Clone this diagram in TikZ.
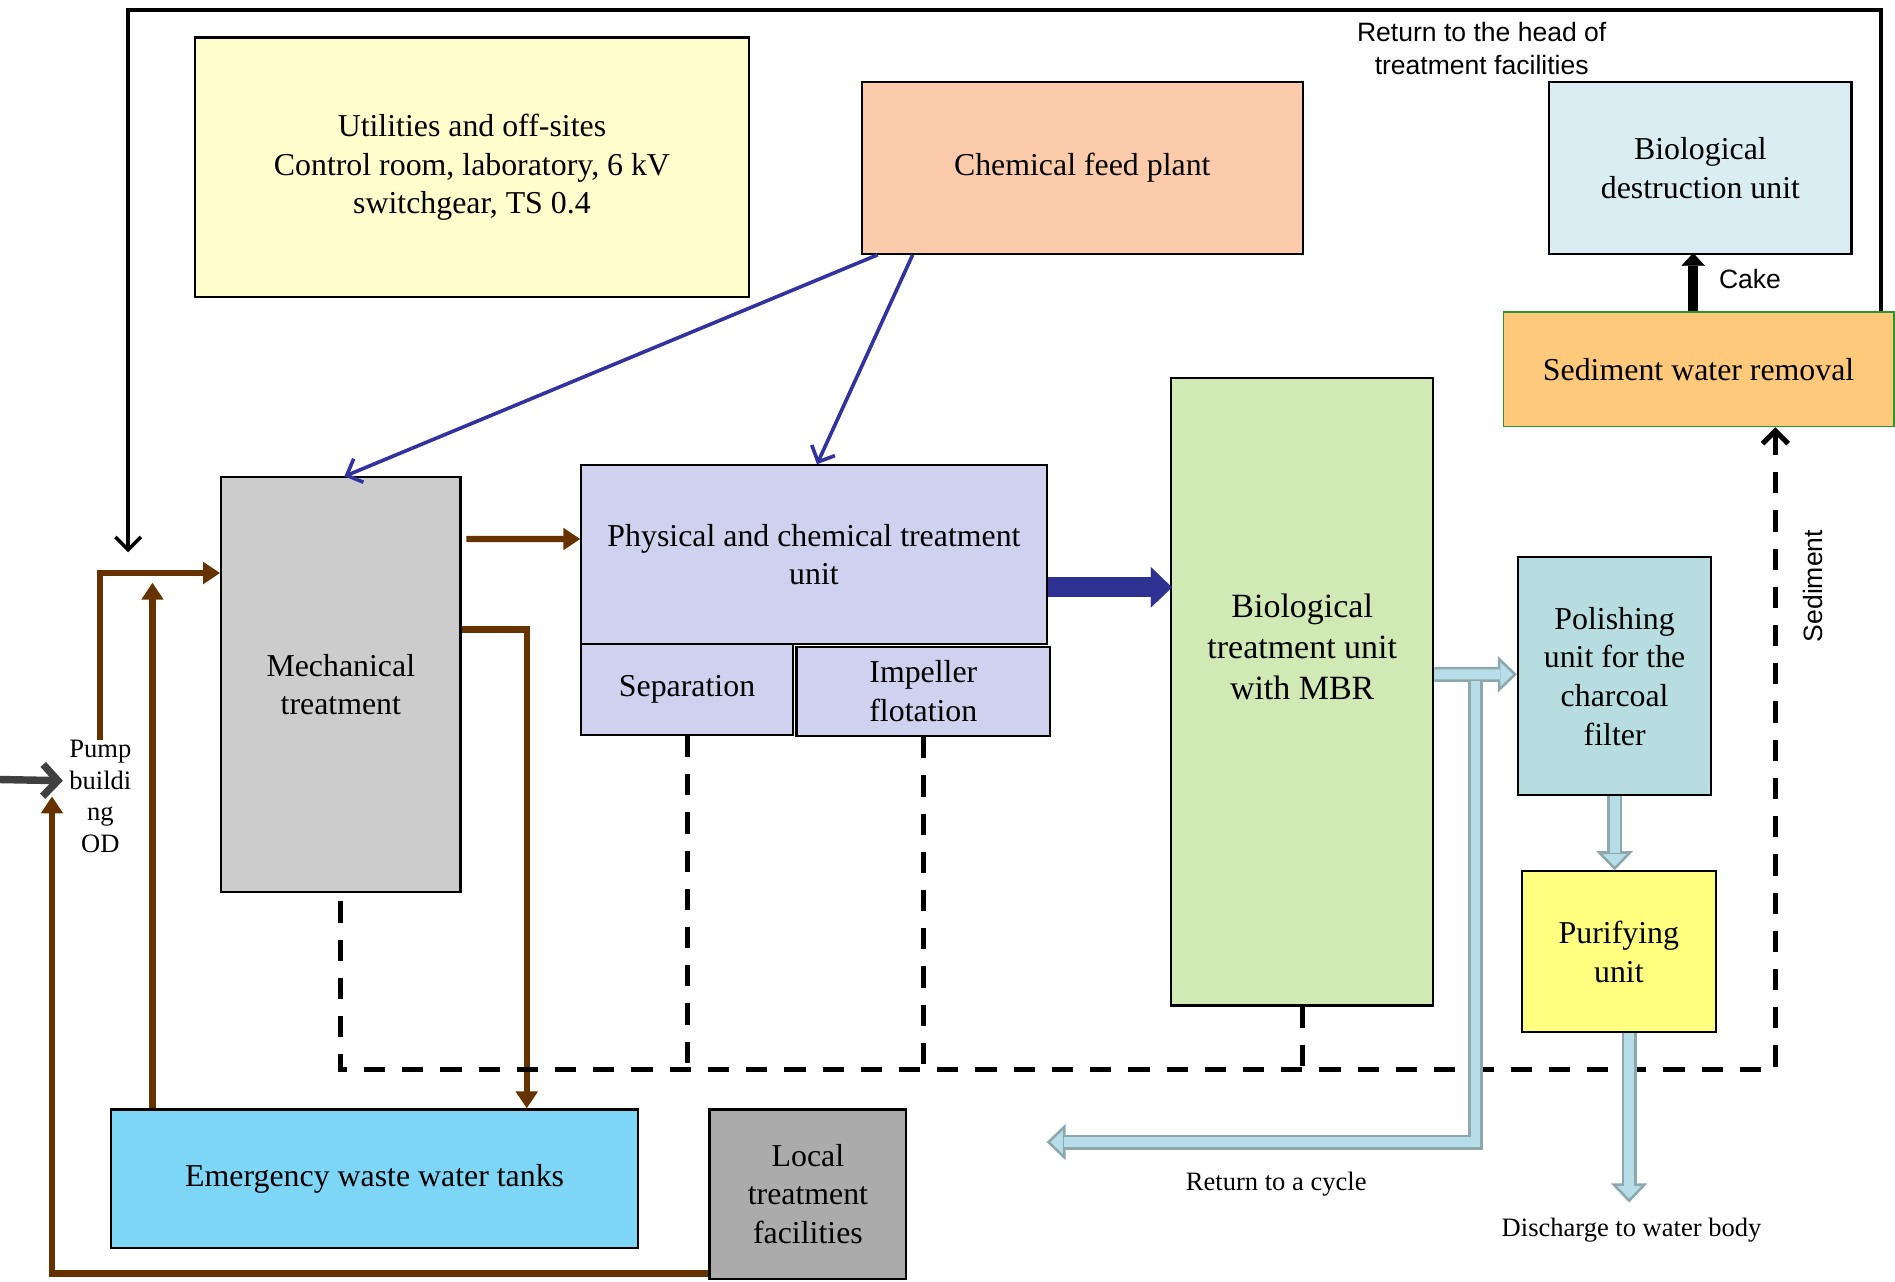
\documentclass[tikz,border=0pt]{standalone}
\usepackage{fontspec}
\setmainfont{Liberation Serif}
\newfontfamily\arialfont{Liberation Sans}
\usetikzlibrary{positioning, arrows.meta}

\definecolor{utilyellow}{RGB}{255,253,204}
\definecolor{chempeach}{RGB}{252,203,172}
\definecolor{destblue}{RGB}{218,237,242}
\definecolor{sedorange}{RGB}{255,201,124}
\definecolor{sedgreen}{RGB}{40,150,40}
\definecolor{mechgray}{RGB}{204,204,204}
\definecolor{physlilac}{RGB}{208,208,239}
\definecolor{mbrgreen}{RGB}{209,233,180}
\definecolor{polishteal}{RGB}{183,221,224}
\definecolor{purifyyellow}{RGB}{255,255,128}
\definecolor{tankblue}{RGB}{125,214,246}
\definecolor{localgray}{RGB}{171,171,171}
\definecolor{flowbrown}{RGB}{102,51,0}
\definecolor{dosingblue}{RGB}{51,51,160}
\definecolor{navyflow}{RGB}{46,49,146}
\definecolor{waterfill}{RGB}{183,222,232}
\definecolor{wateredge}{RGB}{140,168,172}
\definecolor{inflowgray}{RGB}{64,64,64}

\newcommand{\boxfont}{\fontsize{15}{18.2}\selectfont}
\newcommand{\notefont}{\fontsize{12.5}{15}\selectfont}
\newcommand{\sansnote}{\arialfont\fontsize{12.5}{15.4}\selectfont}

\begin{document}
\begin{tikzpicture}[x=0.02cm, y=-0.02cm, align=center,
		unit/.style={draw, line width=1pt, inner sep=0pt, font=\boxfont},
		brownflow/.style={draw=flowbrown, line width=3pt, -{Triangle[length=8pt,width=10pt]}},
		dosing/.style={draw=dosingblue, line width=1.7pt, -{Straight Barb[length=6pt,width=12pt]}},
		sludge/.style={line width=2.4pt, dash pattern=on 10pt off 8pt},
		waterarrow/.style={draw=wateredge, line width=7pt,
			-{Triangle[length=9pt,width=17pt,line width=1.2pt,fill=waterfill]},
			postaction={draw=waterfill, line width=4.6pt, -, shorten >=8pt}}
	]
		\useasboundingbox (0,0) rectangle (1568,1060);

		\node[unit, fill=utilyellow, minimum width=9.18cm, minimum height=4.3cm] (util) at (390.5,138.5) {Utilities and off-sites\\ Control room, laboratory, 6 kV\\ switchgear, TS 0.4};
		\node[unit, fill=chempeach, minimum width=7.3cm, minimum height=2.84cm] (chem) at (895.5,139) {Chemical feed plant};
		\node[unit, fill=destblue, minimum width=5cm, minimum height=2.84cm] (dest) at (1407,139) {Biological\\ destruction unit};
		\node[unit, fill=sedorange, draw=sedgreen, line width=0.7pt, minimum width=6.46cm, minimum height=1.9cm] (sed) at (1405.5,305.5) {Sediment water removal};
		\node[unit, fill=mechgray, minimum width=3.96cm, minimum height=6.86cm] (mech) at (282,566.5) {Mechanical\\ treatment};
		\node[unit, fill=physlilac, minimum width=7.7cm, minimum height=2.96cm] (phys) at (673.5,459) {Physical and chemical treatment\\ unit};
		\node[unit, fill=physlilac, minimum width=3.5cm, minimum height=1.5cm] (sep) at (568.5,570.5) {Separation};
		\node[unit, fill=physlilac, minimum width=4.2cm, minimum height=1.48cm] (imp) at (764,572) {Impeller\\ flotation};
		\node[unit, fill=mbrgreen, minimum width=4.34cm, minimum height=10.38cm,
			label={[font=\fontsize{16}{19.4}\selectfont, yshift=0.75cm]center:Biological\\ treatment unit\\ with MBR}] (mbr) at (1077.5,572.5) {};
		\node[unit, fill=polishteal, minimum width=3.2cm, minimum height=3.94cm] (polish) at (1336,559.5) {Polishing\\ unit for the\\ charcoal\\ filter};
		\node[unit, fill=purifyyellow, minimum width=3.22cm, minimum height=2.66cm] (purify) at (1339.5,787.5) {Purifying\\ unit};
		\node[unit, fill=tankblue, minimum width=8.72cm, minimum height=2.3cm] (tanks) at (310,975.5) {Emergency waste water tanks};
		\node[unit, fill=localgray, minimum width=3.26cm, minimum height=2.8cm] (local) at (668.5,988) {Local\\ treatment\\ facilities};

		\node[font=\fontsize{12.5}{14.8}\selectfont, inner sep=0pt] (pump) at (83,659) {Pump\\ buildi\\ ng\\ OD};
		\node[font=\sansnote, inner sep=0pt] (headnote) at (1226,40) {Return to the head of\\ treatment facilities};
		\node[font=\sansnote, inner sep=0pt] (cake) at (1448,231) {Cake};
		\node[font=\sansnote, inner sep=0pt, rotate=90] (sednote) at (1500,485) {Sediment};
		\node[font=\notefont, inner sep=0pt] (cyclenote) at (1056,980) {Return to a cycle};
		\node[font=\notefont, inner sep=0pt] (dischargenote) at (1350,1018) {Discharge to water body};

		\coordinate (head) at (106,457);
		\coordinate (inflow) at (0,645);
		\coordinate (recycle) at (866,945);
		\coordinate (discharge) at (1348,995);

		% return to the head
		\draw[line width=1.7pt, -{Straight Barb[length=6pt,width=12pt]}] ([xshift=-0.22cm]sed.north east) -- ++(0,-249) -| (head);
		\draw[draw=inflowgray, line width=3.5pt, -{Straight Barb[length=7pt,width=15pt]}] (inflow) -- ([xshift=-0.1cm, yshift=0.26cm]pump.west);

		\draw[dosing] ([xshift=0.28cm]chem.south west) -- ([xshift=0.06cm]mech.north);
		\draw[dosing] ([xshift=0.86cm]chem.south west) -- ([xshift=0.05cm]phys.north);

		\draw[brownflow] (pump.north) |- ([yshift=-1.6cm]mech.north west);
		\draw[brownflow] ([xshift=0.7cm]tanks.north west) -- ++(0,-435);
		\draw[brownflow] ([xshift=0.08cm, yshift=2.41cm]mech.east) -- ([yshift=0.26cm]phys.west);
		\draw[brownflow] ([yshift=0.91cm]mech.east) -| ([xshift=-1.86cm]tanks.north east);
		\draw[brownflow] ([yshift=0.1cm]local.south west) -| ([xshift=-0.28cm]pump.west);

		\draw[draw=navyflow, line width=9.5pt, -{Triangle[length=10pt,width=19pt,line width=0.1pt]}] ([yshift=-0.54cm]phys.east) -- +(103,0);
		\draw[line width=4.5pt, -{Triangle[length=6pt,width=11pt,line width=0.1pt]}] ([xshift=-0.09cm]sed.north) -- ++(0,-48);

		\draw[sludge, -{Straight Barb[length=6pt,width=12pt]}] ([yshift=-0.14cm]mech.south) -- ++(0,139) -| ([xshift=1.27cm]sed.south);
		\draw[sludge] (sep.south) -- ++(0,276);
		\draw[sludge] (imp.south) -- ++(0,275);
		\draw[sludge] (mbr.south) -- ++(0,52);

		\draw[waterarrow] ([yshift=0.29cm]mbr.east) -- ([yshift=0.03cm]polish.west);
		\draw[waterarrow] ([xshift=0.68cm, yshift=0.18cm]mbr.east) |- (recycle);
		\draw[waterarrow] (polish.south) -- (polish.south |- purify.north);
		\draw[waterarrow] (purify.south -| discharge) -- (discharge);
	\end{tikzpicture}
\end{document}
